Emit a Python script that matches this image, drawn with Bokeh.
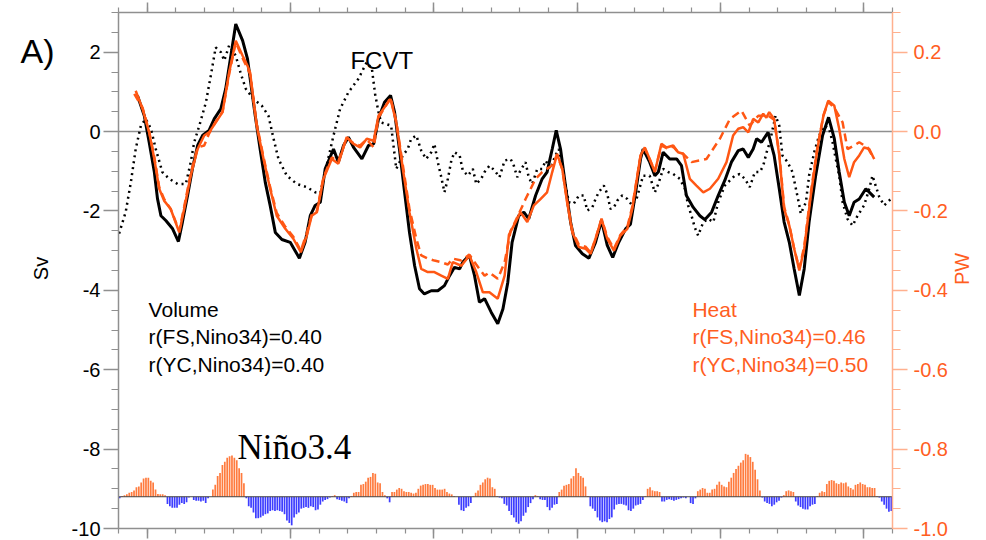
import math
from bokeh.plotting import figure
from bokeh.models import (Range1d, LinearAxis, FixedTicker, Label,
                          ColumnDataSource, PrintfTickFormatter)
from bokeh.embed import file_html
from bokeh.resources import INLINE

# ---------------- data ----------------
# FS volume transport (Sv), black solid
vol_fs_t = [1979.66, 1979.90, 1980.07, 1980.25, 1980.36, 1980.48, 1980.65, 1980.88, 1981.09, 1981.23,
            1981.41, 1981.58, 1981.76, 1981.93, 1982.16, 1982.34, 1982.57, 1982.74, 1982.92, 1983.09,
            1983.33, 1983.50, 1983.77, 1983.94, 1984.12, 1984.29, 1984.47, 1984.70, 1984.99, 1985.16,
            1985.31, 1985.51, 1985.69, 1985.86, 1986.04, 1986.21, 1986.50, 1986.67, 1986.85, 1987.02,
            1987.20, 1987.49, 1987.72, 1987.90, 1988.07, 1988.28, 1988.49, 1988.63, 1988.80, 1988.98,
            1989.15, 1989.33, 1989.50, 1989.67, 1989.91, 1990.14, 1990.37, 1990.55, 1990.72, 1990.90,
            1991.01, 1991.24, 1991.42, 1991.59, 1991.77, 1992.00, 1992.23, 1992.41, 1992.58, 1992.73,
            1992.96, 1993.14, 1993.31, 1993.55, 1993.78, 1993.95, 1994.13, 1994.27, 1994.42, 1994.59,
            1994.77, 1994.94, 1995.18, 1995.41, 1995.64, 1995.85, 1996.05, 1996.24, 1996.45, 1996.69,
            1996.86, 1997.04, 1997.21, 1997.30, 1997.53, 1997.71, 1997.83, 1998.00, 1998.23, 1998.47,
            1998.64, 1998.81, 1999.05, 1999.28, 1999.45, 1999.69, 1999.92, 2000.15, 2000.38, 2000.62,
            2000.79, 2000.97, 2001.14, 2001.26, 2001.43, 2001.66, 2001.87, 2002.05, 2002.22, 2002.40,
            2002.57, 2002.75, 2002.92, 2003.09, 2003.32, 2003.56, 2003.77, 2003.97, 2004.14, 2004.32,
            2004.49, 2004.66, 2004.84, 2005.07, 2005.36]
vol_fs_v = [0.91, 0.40, -0.27, -1.02, -1.69, -2.12, -2.24, -2.44, -2.77, -2.28,
            -1.61, -0.93, -0.35, -0.10, 0.03, 0.32, 0.57, 1.08, 1.91, 2.71,
            2.29, 1.83, 0.40, -0.44, -1.28, -1.86, -2.54, -2.72, -2.79, -3.00,
            -3.19, -2.79, -2.12, -1.86, -1.78, -0.94, -0.44, -0.77, -0.35, -0.14,
            -0.40, -0.69, -0.35, -0.31, 0.32, 0.74, 0.91, 0.49, -0.44, -1.53,
            -2.54, -3.38, -3.96, -4.09, -4.01, -4.01, -3.88, -3.63, -3.42, -3.46,
            -3.29, -3.12, -3.63, -4.30, -4.21, -4.55, -4.84, -4.47, -3.80, -2.79,
            -2.12, -2.03, -2.20, -1.61, -1.19, -1.02, -0.44, 0.03, -0.44, -1.36,
            -2.28, -2.87, -3.08, -3.19, -2.79, -2.24, -2.87, -3.17, -2.79, -2.45,
            -2.33, -1.53, -0.69, -0.44, -0.77, -1.11, -1.02, -0.52, -0.69, -0.69,
            -0.86, -1.61, -1.91, -2.12, -2.22, -2.03, -1.61, -1.23, -0.77, -0.48,
            -0.44, -0.65, -0.44, -0.18, -0.27, -0.02, -0.60, -1.44, -2.28, -2.79,
            -3.46, -4.13, -3.46, -2.28, -1.11, -0.10, 0.36, -0.18, -1.02, -1.78,
            -2.12, -1.78, -1.70, -1.44, -1.65]

# FCVT (Sv), black dotted
fcvt_t = [1979.02, 1979.25, 1979.43, 1979.60, 1979.78, 1979.95, 1980.13, 1980.30, 1980.53, 1980.77,
          1981.06, 1981.35, 1981.52, 1981.64, 1981.82, 1982.05, 1982.22, 1982.39, 1982.57, 1982.69,
          1982.86, 1983.09, 1983.27, 1983.44, 1983.71, 1984.00, 1984.23, 1984.41, 1984.58, 1984.87,
          1985.22, 1985.57, 1985.86, 1986.04, 1986.26, 1986.50, 1986.73, 1987.02, 1987.37, 1987.66,
          1987.84, 1987.95, 1988.07, 1988.16, 1988.51, 1988.69, 1988.92, 1989.09, 1989.21, 1989.39,
          1989.56, 1989.73, 1989.91, 1990.02, 1990.14, 1990.26, 1990.37, 1990.49, 1990.61, 1990.72,
          1990.90, 1991.01, 1991.19, 1991.36, 1991.48, 1991.65, 1991.77, 1991.94, 1992.12, 1992.29,
          1992.47, 1992.68, 1992.79, 1992.91, 1993.02, 1993.20, 1993.31, 1993.43, 1993.61, 1993.78,
          1993.90, 1994.07, 1994.24, 1994.36, 1994.53, 1994.71, 1994.88, 1995.06, 1995.23, 1995.35,
          1995.53, 1995.64, 1995.75, 1995.93, 1996.05, 1996.16, 1996.28, 1996.40, 1996.57, 1996.75,
          1996.92, 1997.09, 1997.30, 1997.53, 1997.71, 1997.83, 1998.00, 1998.18, 1998.35, 1998.58,
          1998.76, 1998.87, 1998.99, 1999.10, 1999.22, 1999.40, 1999.57, 1999.75, 1999.92, 2000.15,
          2000.33, 2000.50, 2000.67, 2000.85, 2001.02, 2001.20, 2001.37, 2001.49, 2001.61, 2001.72,
          2001.92, 2002.05, 2002.16, 2002.34, 2002.51, 2002.63, 2002.75, 2002.80, 2002.98, 2003.09,
          2003.27, 2003.44, 2003.62, 2003.79, 2003.91, 2004.02, 2004.14, 2004.26, 2004.43, 2004.61,
          2004.78, 2005.01, 2005.19, 2005.30, 2005.54, 2005.71, 2005.94]
fcvt_v = [-2.57, -2.03, -1.28, -0.44, 0.15, 0.32, 0.07, -0.44, -1.02, -1.19,
          -1.32, -1.32, -0.77, -0.27, 0.15, 0.74, 1.41, 2.12, 2.00, 1.79,
          2.17, 1.91, 1.45, 1.08, 0.82, 0.65, 0.40, -0.18, -0.69, -1.11,
          -1.32, -1.40, -1.53, -1.55, -0.86, -0.10, 0.57, 0.99, 1.33, 1.75,
          1.58, 0.95, 0.49, 0.23, 0.15, -0.94, -0.60, -0.44, -0.18, -0.10,
          -0.48, -0.69, -0.52, -0.31, -0.77, -1.15, -1.53, -1.19, -0.73, -0.52,
          -0.60, -0.98, -1.11, -0.94, -1.32, -1.19, -1.02, -0.86, -0.98, -1.15,
          -0.73, -0.69, -0.86, -1.15, -0.98, -0.77, -1.15, -1.32, -0.94, -0.94,
          -0.73, -0.94, -0.60, -0.44, -1.11, -1.78, -1.82, -1.61, -1.61, -1.99,
          -1.91, -1.70, -1.53, -1.36, -1.57, -1.95, -1.91, -1.74, -1.61, -1.70,
          -1.86, -1.65, -1.11, -1.11, -1.53, -1.32, -0.94, -1.02, -1.07, -1.19,
          -1.44, -1.86, -2.12, -2.41, -2.62, -2.28, -2.20, -2.28, -1.78, -1.36,
          -1.23, -1.11, -1.07, -1.19, -1.40, -1.02, -1.02, -0.86, -0.52, -0.27,
          0.40, 0.15, -0.60, -0.77, -1.02, -1.44, -1.86, -2.07, -1.78, -1.11,
          -0.52, -0.10, 0.15, 0.07, -0.27, -0.69, -1.11, -1.78, -2.20, -2.37,
          -2.12, -1.86, -1.44, -1.11, -1.65, -1.86, -1.70]

# FS heat transport (PW), orange solid
heat_fs_t = [1979.60, 1979.84, 1980.07, 1980.25, 1980.42, 1980.59, 1980.82, 1981.12, 1981.29, 1981.52,
             1981.76, 1981.99, 1982.16, 1982.39, 1982.63, 1982.86, 1983.09, 1983.33, 1983.50, 1983.59,
             1983.82, 1984.06, 1984.29, 1984.52, 1984.82, 1985.10, 1985.36, 1985.57, 1985.74, 1985.92,
             1986.15, 1986.44, 1986.67, 1986.96, 1987.20, 1987.43, 1987.66, 1987.90, 1988.07, 1988.16,
             1988.49, 1988.69, 1988.92, 1989.15, 1989.39, 1989.56, 1989.79, 1990.02, 1990.26, 1990.49,
             1990.66, 1990.96, 1991.24, 1991.48, 1991.71, 1991.94, 1992.23, 1992.47, 1992.62, 1992.85,
             1993.02, 1993.26, 1993.49, 1993.72, 1993.95, 1994.13, 1994.30, 1994.48, 1994.65, 1994.83,
             1995.06, 1995.29, 1995.47, 1995.64, 1995.85, 1996.05, 1996.28, 1996.51, 1996.75, 1996.92,
             1997.21, 1997.36, 1997.53, 1997.71, 1997.94, 1998.12, 1998.35, 1998.52, 1998.70, 1998.93,
             1999.16, 1999.40, 1999.63, 1999.92, 2000.21, 2000.44, 2000.62, 2000.79, 2000.97, 2001.14,
             2001.32, 2001.49, 2001.60, 2001.70, 2001.87, 2002.05, 2002.22, 2002.40, 2002.57, 2002.75,
             2002.92, 2003.15, 2003.38, 2003.59, 2003.76, 2003.97, 2004.14, 2004.32, 2004.49, 2004.66,
             2004.84, 2005.01, 2005.19, 2005.36]
heat_fs_v = [0.103, 0.057, -0.002, -0.069, -0.144, -0.174, -0.195, -0.254, -0.195, -0.111,
             -0.044, -0.010, -0.002, 0.023, 0.049, 0.149, 0.229, 0.191, 0.166, 0.149,
             0.015, -0.069, -0.144, -0.212, -0.245, -0.270, -0.304, -0.262, -0.212, -0.203,
             -0.119, -0.069, -0.081, -0.014, -0.031, -0.040, -0.018, -0.023, 0.040, 0.049,
             0.082, 0.023, -0.094, -0.203, -0.295, -0.346, -0.354, -0.354, -0.363, -0.371,
             -0.329, -0.338, -0.312, -0.354, -0.405, -0.405, -0.421, -0.363, -0.260, -0.228,
             -0.203, -0.228, -0.186, -0.170, -0.153, -0.102, -0.056, -0.094, -0.178, -0.254,
             -0.291, -0.295, -0.308, -0.270, -0.220, -0.270, -0.300, -0.262, -0.245, -0.195,
             -0.060, -0.040, -0.069, -0.102, -0.031, -0.040, -0.035, -0.052, -0.056, -0.119,
             -0.136, -0.153, -0.144, -0.119, -0.077, -0.010, 0.007, 0.011, -0.002, 0.032,
             0.023, 0.045, 0.035, 0.049, 0.032, -0.060, -0.195, -0.237, -0.295, -0.350,
             -0.295, -0.161, -0.044, 0.040, 0.078, 0.065, 0.007, -0.069, -0.115, -0.077,
             -0.060, -0.040, -0.044, -0.069]

# YC heat transport (PW), orange dashed
heat_yc_t = [1979.55, 1979.84, 1980.07, 1980.25, 1980.42, 1980.59, 1980.82, 1981.12, 1981.29, 1981.52,
             1981.76, 1981.99, 1982.16, 1982.39, 1982.63, 1982.86, 1983.09, 1983.33, 1983.59, 1983.82,
             1984.06, 1984.29, 1984.52, 1984.82, 1985.10, 1985.36, 1985.57, 1985.74, 1985.92, 1986.15,
             1986.44, 1986.67, 1986.96, 1987.20, 1987.43, 1987.66, 1987.90, 1988.07, 1988.49, 1988.69,
             1988.92, 1989.15, 1989.39, 1989.56, 1989.79, 1990.02, 1990.26, 1990.49, 1990.66, 1990.96,
             1991.24, 1991.48, 1991.77, 1991.94, 1992.23, 1992.47, 1992.68, 1992.85, 1993.20, 1993.55,
             1993.78, 1994.13, 1994.30, 1994.48, 1994.65, 1994.83, 1995.06, 1995.29, 1995.47, 1995.64,
             1995.85, 1996.05, 1996.28, 1996.51, 1996.75, 1996.92, 1997.21, 1997.36, 1997.53, 1997.71,
             1997.94, 1998.12, 1998.35, 1998.52, 1998.70, 1998.99, 1999.51, 1999.98, 2000.33, 2000.73,
             2001.02, 2001.32, 2001.66, 2001.87, 2002.05, 2002.22, 2002.40, 2002.57, 2002.75, 2002.92,
             2003.15, 2003.38, 2003.59, 2003.76, 2003.97, 2004.26, 2004.43, 2004.66, 2004.84, 2005.13,
             2005.36]
heat_yc_v = [0.095, 0.060, 0.000, -0.065, -0.140, -0.170, -0.195, -0.250, -0.190, -0.105,
             -0.040, -0.035, -0.005, 0.025, 0.050, 0.145, 0.225, 0.185, 0.145, 0.020,
             -0.065, -0.140, -0.205, -0.240, -0.265, -0.300, -0.255, -0.210, -0.200, -0.115,
             -0.065, -0.075, -0.015, -0.030, -0.035, -0.020, -0.040, 0.035, 0.085, 0.025,
             -0.085, -0.195, -0.270, -0.312, -0.320, -0.325, -0.329, -0.335, -0.320, -0.325,
             -0.310, -0.335, -0.363, -0.355, -0.371, -0.329, -0.250, -0.225, -0.170, -0.119,
             -0.102, -0.085, -0.058, -0.095, -0.175, -0.250, -0.285, -0.290, -0.305, -0.270,
             -0.220, -0.265, -0.295, -0.260, -0.240, -0.190, -0.062, -0.042, -0.070, -0.100,
             -0.035, -0.042, -0.038, -0.052, -0.056, -0.077, -0.069, -0.018, 0.032, 0.053,
             0.015, 0.040, 0.040, 0.030, -0.055, -0.190, -0.235, -0.295, -0.345, -0.290,
             -0.155, -0.040, 0.040, 0.075, 0.060, 0.023, -0.044, -0.035, -0.027, -0.040,
             -0.069]

# Nino3.4 monthly index (deg C), Jan 1979 - Dec 2005
nino34_start = 1979
nino34 = [
    -0.1, 0.05, 0.1, 0.15, 0.25, 0.3, 0.4, 0.6, 0.65, 0.9, 1.15, 1.2,
    1.2, 1.0, 0.9, 0.45, 0.17, 0.15, 0.15, 0.1, -0.45, -0.6, -0.7, -0.7,
    -0.7, -0.5, -0.4, -0.45, -0.35, -0.05, 0.0, -0.2, -0.25, -0.25, -0.3, -0.25,
    -0.4, -0.1, 0.0, 0.45, 0.75, 1.3, 1.5, 2.0, 2.2, 2.45, 2.55, 2.6,
    2.45, 2.3, 1.8, 1.5, 0.85, -0.1, -0.6, -0.7, -1.0, -1.35, -1.35, -1.3,
    -1.2, -1.1, -1.05, -0.9, -0.85, -0.9, -0.85, -0.9, -0.95, -1.1, -1.5, -1.65,
    -1.8, -1.3, -1.1, -1.0, -0.75, -0.7, -0.65, -0.7, -0.6, -0.65, -0.85, -0.8,
    -0.5, -0.3, -0.2, -0.15, -0.05, 0.05, 0.1, -0.15, -0.2, -0.25, -0.3, -0.4,
    -0.1, 0.05, 0.25, 0.3, 0.3, 0.75, 0.8, 0.95, 1.2, 1.25, 1.5, 1.45,
    0.9, 0.85, 0.3, 0.1, -0.1, -0.35, 0.3, 0.3, 0.45, 0.55, 0.5, 0.35,
    0.3, 0.3, 0.25, 0.2, 0.25, 0.5, 0.7, 0.75, 0.8, 0.8, 0.75, 0.75,
    0.55, 0.45, 0.45, 0.45, 0.5, 0.3, 0.2, 0.15, 0.05, 0.0, -0.5, -0.85,
    -0.9, -0.7, -0.6, -0.4, 0.05, 0.25, 0.4, 0.75, 0.9, 1.1, 1.2, 1.15,
    0.6, 0.5, 0.05, -0.05, -0.1, -0.45, -0.55, -0.9, -1.15, -1.3, -1.6, -1.7,
    -1.55, -1.2, -1.0, -0.65, -0.4, -0.15, 0.1, 0.05, -0.15, -0.2, -0.2, -0.65,
    -0.85, -0.7, -0.5, -0.45, 0.3, 0.45, 0.7, 0.75, 0.8, 1.15, 1.3, 1.8,
    1.5, 1.3, 1.2, 0.65, 0.05, -0.6, -0.75, -0.9, -1.3, -1.5, -1.6, -1.55,
    -1.6, -1.4, -1.3, -0.8, -0.5, -0.45, -0.45, -0.5, -0.55, -0.85, -0.9, -0.75,
    -0.55, -0.5, -0.45, -0.2, 0.05, 0.5, 0.6, 0.4, 0.35, 0.35, 0.3, -0.3,
    -0.3, -0.2, -0.15, -0.2, -0.25, -0.2, -0.15, -0.1, -0.05, -0.1, 0.0, -0.4,
    -0.45, -0.1, 0.35, 0.45, 0.55, 0.5, 0.25, 0.25, 0.45, 0.5, 0.75, 0.95,
    0.75, 0.65, 0.6, 0.95, 1.2, 1.5, 1.75, 1.95, 2.15, 2.3, 2.7, 2.65,
    2.5, 2.2, 1.7, 1.1, 0.4, -0.05, -0.3, -0.4, -0.45, -0.6, -0.5, -0.35,
    -0.25, -0.05, 0.1, 0.35, 0.4, 0.35, 0.3, -0.3, -0.55, -0.65, -0.75, -0.8,
    -0.8, -0.6, -0.5, -0.45, 0.05, 0.25, 0.35, 0.3, 0.8, 1.0, 1.05, 1.0,
    0.85, 0.8, 0.9, 0.85, 0.9, 0.65, 0.55, 0.45, 0.75, 0.8, 0.9, 0.8,
    0.75, 0.6, 0.6, 0.55, 0.55, 0.05, -0.05, -0.3, -0.5, -0.75, -0.95, -0.9,
]
nino_base = -9.2      # Sv level of the Nino3.4 baseline
nino_scale = 0.4      # Sv per deg C

sv_ticks = [-10, -8, -6, -4, -2, 0, 2]
pw_ticks = [-1.0, -0.8, -0.6, -0.4, -0.2, 0.0, 0.2]
year_major = [1980, 1985, 1990, 1995, 2000, 2005]
year_start, year_end = 1979, 2006
sv_bottom, sv_top = -10.0, 3.0

# ---------------- layout ----------------
W, H = 986, 540
FL, FR, FT, FB = 118, 892, 12, 528   # plot box in pixels
px_per_year = (FR - FL) / (year_end - year_start)
px_per_sv = (FB - FT) / (sv_top - sv_bottom)
xr = Range1d(year_start - FL / px_per_year, year_end + (W - FR) / px_per_year)
yr = Range1d(sv_bottom - (H - FB) / px_per_sv, sv_top + FT / px_per_sv)

ORANGE = "#ff5714"
ORANGE_TXT = "#ff5e1f"
ORANGE_AX = "#ffb08e"
GREY = "#8f8f8f"
FONT = "Liberation Sans"

p = figure(width=W, height=H, output_backend="svg", toolbar_location=None,
           x_range=xr, y_range=yr, min_border=0,
           min_border_left=0, min_border_right=0, min_border_top=0, min_border_bottom=0,
           x_axis_location=None, y_axis_location=None)
p.extra_y_ranges = {"pw": Range1d(yr.start / 10.0, yr.end / 10.0)}
p.outline_line_color = None
p.xgrid.visible = False
p.ygrid.visible = False
p.background_fill_color = "white"
p.border_fill_color = "white"


def style_axis(ax, col, lab_col, tick_out, minor_out):
    ax.axis_line_color = col
    ax.axis_line_width = 1.5
    ax.major_tick_line_color = col
    ax.major_tick_line_width = 1.5
    ax.minor_tick_line_color = col
    ax.minor_tick_line_width = 1.2
    ax.major_tick_in = 0
    ax.minor_tick_in = 0
    ax.major_tick_out = tick_out
    ax.minor_tick_out = minor_out
    ax.major_label_text_color = lab_col
    ax.major_label_text_font = FONT
    ax.major_label_text_font_size = "20px"


left = LinearAxis(ticker=FixedTicker(ticks=sv_ticks,
                                     minor_ticks=[v / 2 for v in range(-20, 7)]),
                  formatter=PrintfTickFormatter(format="%d"),
                  fixed_location=year_start, bounds=(sv_bottom, sv_top))
style_axis(left, GREY, "black", 15, 7)
left.major_label_standoff = 3
p.add_layout(left, "left")

right = LinearAxis(y_range_name="pw",
                   ticker=FixedTicker(ticks=pw_ticks,
                                      minor_ticks=[v / 20 for v in range(-20, 7)]),
                   formatter=PrintfTickFormatter(format="%.1f"),
                   fixed_location=year_end, bounds=(sv_bottom / 10.0, sv_top / 10.0))
style_axis(right, ORANGE_AX, ORANGE_TXT, 15, 8)
right.major_label_standoff = 6
p.add_layout(right, "right")

minor_years = list(range(year_start, year_end + 1))
blank = {y: "" for y in year_major}
top = LinearAxis(ticker=FixedTicker(ticks=year_major, minor_ticks=minor_years),
                 fixed_location=sv_top, bounds=(year_start, year_end),
                 major_label_overrides=blank)
style_axis(top, GREY, "black", 10, 5)
p.add_layout(top, "above")

bottom = LinearAxis(ticker=FixedTicker(ticks=year_major, minor_ticks=minor_years),
                    fixed_location=sv_bottom, bounds=(year_start, year_end),
                    major_label_overrides=blank)
style_axis(bottom, GREY, "black", 10, 5)
p.add_layout(bottom, "below")

# zero line
p.line([year_start, year_end], [0, 0], line_color=GREY, line_width=1.5)

# Nino3.4 bars
bx, btop, bbot, bcol = [], [], [], []
for i, v in enumerate(nino34):
    bx.append(nino34_start + (i + 0.5) / 12.0)
    h = nino_base + v * nino_scale
    btop.append(max(h, nino_base))
    bbot.append(min(h, nino_base))
    bcol.append("#ff7b3e" if v >= 0 else "#3d3dff")
src = ColumnDataSource(dict(x=bx, top=btop, bottom=bbot, color=bcol))
p.vbar(x="x", top="top", bottom="bottom", width=0.72 / 12, fill_color="color",
       line_color=None, source=src)
p.line([year_start, year_end], [nino_base, nino_base], line_color="#444444", line_width=1)

# lines
p.line(fcvt_t, fcvt_v, line_color="black", line_width=2.5, line_dash="2 4")
p.line(vol_fs_t, vol_fs_v, line_color="black", line_width=3)
p.line(heat_fs_t, heat_fs_v, line_color=ORANGE, line_width=2.5, y_range_name="pw")
p.line(heat_yc_t, heat_yc_v, line_color=ORANGE, line_width=2.5, line_dash="8 5",
       y_range_name="pw")


# texts
def lab(x, y, text, size, color="black", font=FONT, angle=0, align="left", base="alphabetic"):
    p.add_layout(Label(x=x, y=y, text=text, text_font=font, text_font_size=size,
                       text_color=color, angle=angle, text_align=align,
                       text_baseline=base))


lab(1975.58, 2.04, "A)", "34px")
lab(1987.09, 1.79, "FCVT", "24px")
lab(1980.05, -4.48, "Volume", "21px")
lab(1980.05, -5.16, "r(FS,Nino34)=0.40", "21px")
lab(1980.05, -5.87, "r(YC,Nino34)=0.40", "21px")
lab(1999.02, -4.48, "Heat", "21px", ORANGE_TXT)
lab(1999.02, -5.16, "r(FS,Nino34)=0.46", "21px", ORANGE_TXT)
lab(1999.02, -5.87, "r(YC,Nino34)=0.50", "21px", ORANGE_TXT)
lab(1983.15, -7.95, "Niño3.4", "35px", font="Liberation Serif")
lab(1976.31, -3.45, "Sv", "20px", angle=math.pi / 2, align="center", base="middle")
lab(2008.41, -3.46, "PW", "20px", ORANGE_TXT, angle=math.pi / 2, align="center", base="middle")

open("out.html", "w").write(file_html(p, INLINE))
